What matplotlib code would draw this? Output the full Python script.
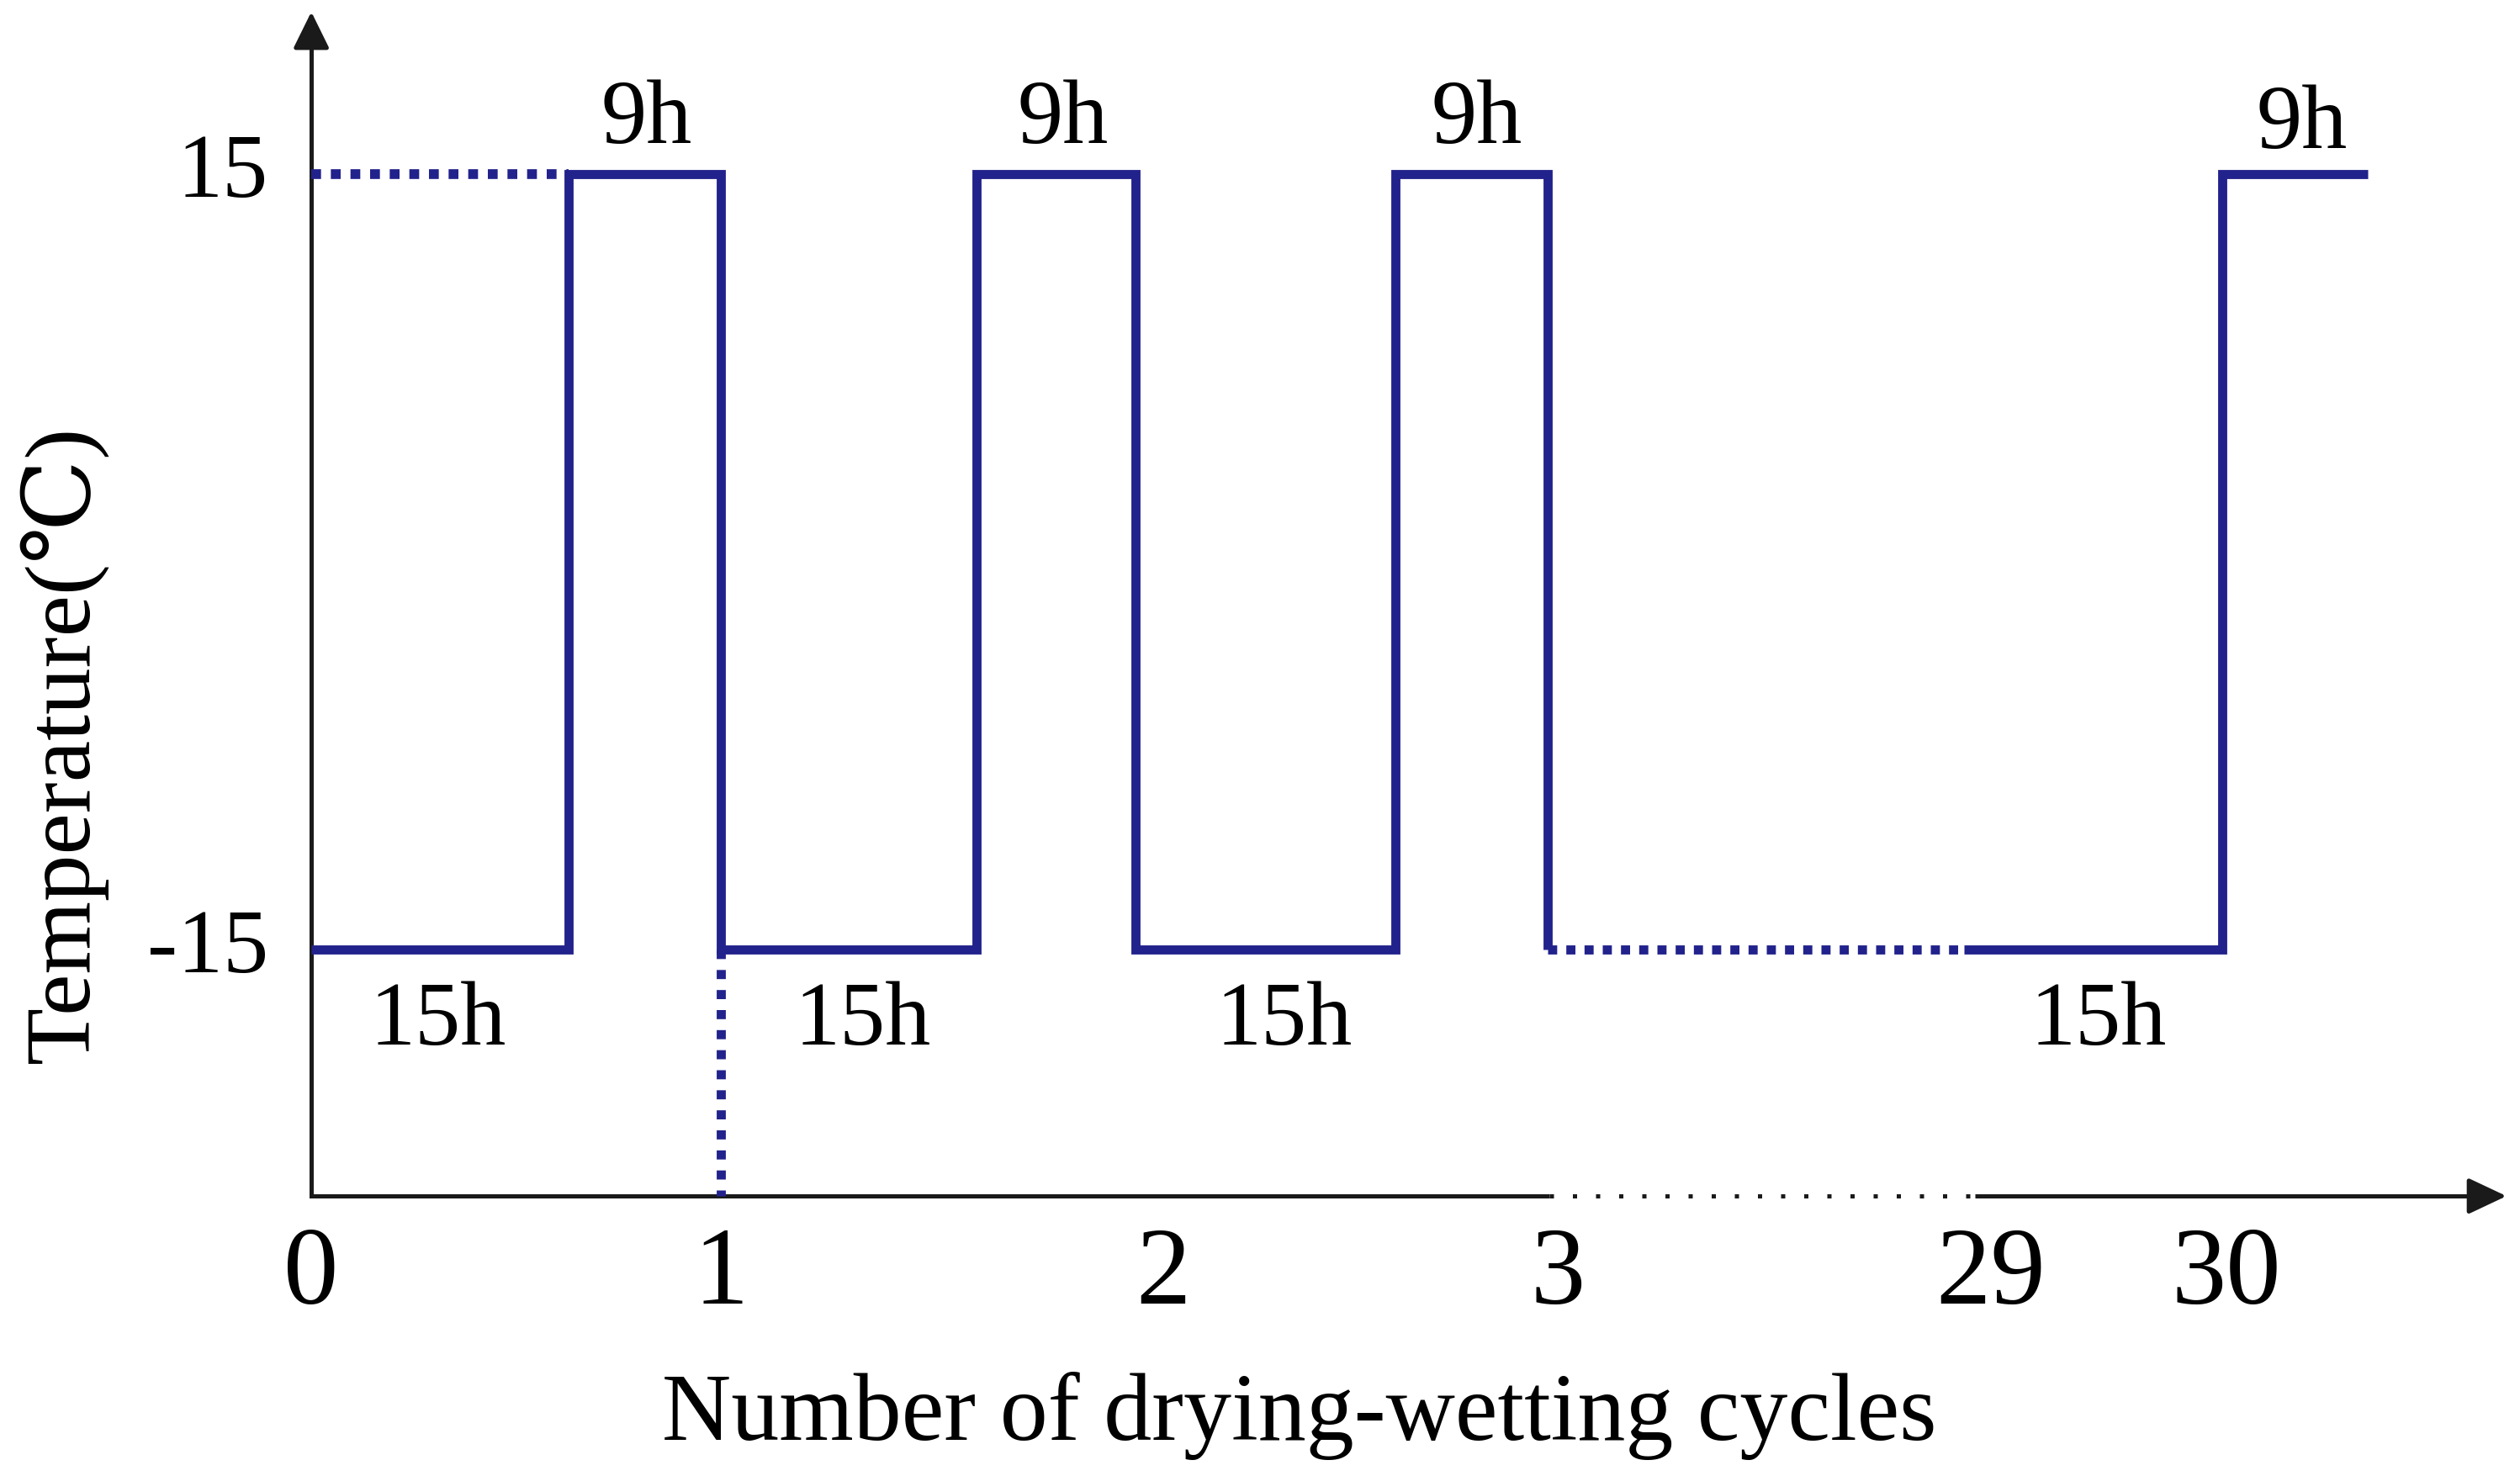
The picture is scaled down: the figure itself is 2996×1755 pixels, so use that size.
import matplotlib
matplotlib.use('Agg')
import matplotlib.pyplot as plt

#####
# temperature levels (C)
t_high = 15
t_low = -15

# square wave, first cycles (x in cycle units, drawn as steps)
wave1_x = [0, 0.628, 1.0, 1.624, 2.012, 2.647, 3.018]
wave1_y = [-15, 15, -15, 15, -15, 15, -15]
# last cycle after the break
wave2_x = [4.035, 4.665, 5.021]
wave2_y = [-15, 15, 15]

# dotted guide lines
dot_high_x = [0, 0.628]
dot_low_x = [3.018, 4.035]
dot_vert_x = 1.0

# axis extent
x_axis_y = -24.54
y_axis_top = 21.28
x_axis_end = 5.359
x_break = [3.023, 4.062]

# tick labels
xtick_pos = [0, 1.0, 2.08, 3.043, 4.099, 4.674]
xtick_lab = ['0', '1', '2', '3', '29', '30']
ytick_pos = [15, -15]
ytick_lab = ['15', '-15']

# duration labels
low_lab_x = [0.310, 1.347, 2.374, 4.363]
high_lab_x = [0.819, 1.834, 2.846, 4.860]
high_lab_y = [17.1, 17.1, 17.1, 16.9]

blue = '#22228c'
serif = ['Liberation Serif', 'DejaVu Serif', 'DejaVu Sans']

#####
fig = plt.figure(figsize=(14.98, 8.78), dpi=200)
ax = fig.add_axes([0, 0, 1, 1])
ax.set_xlim(-0.760, 5.392)
ax.set_ylim(-35.37, 21.77)
ax.axis('off')

# axes drawn by hand
ax.plot([0, 0], [x_axis_y, y_axis_top - 1.0], color='#1a1a1a', lw=1.8)
ax.annotate('', xy=(0, y_axis_top), xytext=(0, y_axis_top - 1.3),
            arrowprops=dict(arrowstyle='-|>,head_length=0.67,head_width=0.33',
                            color='#1a1a1a', lw=1.8, mutation_scale=20,
                            shrinkA=0, shrinkB=0))
ax.plot([0, x_break[0]], [x_axis_y, x_axis_y], color='#1a1a1a', lw=1.8,
        solid_capstyle='butt')
ax.plot(x_break, [x_axis_y, x_axis_y], color='#1a1a1a', lw=1.8,
        ls=(0, (1, 4.5)), dash_capstyle='butt')
ax.plot([x_break[1], x_axis_end - 0.05], [x_axis_y, x_axis_y], color='#1a1a1a',
        lw=1.8, solid_capstyle='butt')
ax.annotate('', xy=(x_axis_end, x_axis_y), xytext=(x_axis_end - 0.07, x_axis_y),
            arrowprops=dict(arrowstyle='-|>,head_length=0.7,head_width=0.33',
                            color='#1a1a1a', lw=1.8, mutation_scale=20,
                            shrinkA=0, shrinkB=0))

# temperature regime
ax.step(wave1_x, wave1_y, where='post', color=blue, lw=3.9,
        solid_joinstyle='miter', solid_capstyle='butt')
ax.step(wave2_x, wave2_y, where='post', color=blue, lw=3.9,
        solid_joinstyle='miter', solid_capstyle='butt')
ax.plot(dot_high_x, [t_high, t_high], color=blue, lw=4.2,
        ls=(0, (1, 1.0)), dash_capstyle='butt')
ax.plot(dot_low_x, [t_low, t_low], color=blue, lw=3.9,
        ls=(0, (1, 1.0)), dash_capstyle='butt')
ax.plot([dot_vert_x, dot_vert_x], [t_low, x_axis_y], color=blue, lw=3.9,
        ls=(0, (1, 1.2)), dash_capstyle='butt')

# tick labels
for xp, lab in zip(xtick_pos, xtick_lab):
    ax.text(xp, -27.63, lab, ha='center', va='center', fontsize=47,
            family=serif)
for yp, lab in zip(ytick_pos, ytick_lab):
    ax.text(-0.105, yp, lab, ha='right', va='center', fontsize=39,
            family=serif)

# durations
for xp in low_lab_x:
    ax.text(xp, -17.8, '15h', ha='center', va='center', fontsize=39,
            family=serif)
for xp, yp in zip(high_lab_x, high_lab_y):
    ax.text(xp, yp, '9h', ha='center', va='center', fontsize=39,
            family=serif)

# axis titles
ax.text(2.413, -33.0, 'Number of drying-wetting cycles', ha='center',
        va='center', fontsize=41, family=serif)
ax.text(-0.606, -7.03, 'Temperature(℃)', ha='center', va='center',
        fontsize=40, rotation=90, family=serif)

fig.savefig('out.png', dpi=200, facecolor='white')
